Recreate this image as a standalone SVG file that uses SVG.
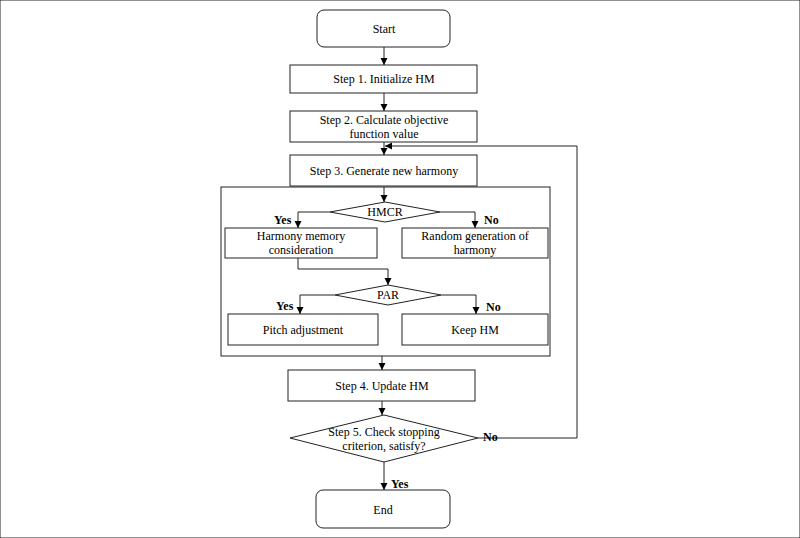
<svg xmlns="http://www.w3.org/2000/svg" width="800" height="538" viewBox="0 0 800 538">
<defs><marker id="a" markerWidth="8" markerHeight="8" refX="7" refY="4" orient="auto" markerUnits="userSpaceOnUse"><path d="M0,0.5 L7,4 L0,7.5 Z" fill="#000"/></marker></defs>
<style>
rect,polygon{fill:#fff;stroke:#222;stroke-width:1}
.t{font-family:"Liberation Serif","Times New Roman","DejaVu Serif",serif;font-size:12px;text-anchor:middle;fill:#000}
.b{font-family:"Liberation Serif","Times New Roman","DejaVu Serif",serif;font-size:12px;font-weight:bold;fill:#000}
.c path{fill:none;stroke:#222;stroke-width:1}
</style>
<rect width="800" height="538" fill="#fff" stroke="none"/>
<g id="container"><rect x="221" y="187" width="329" height="169"/></g>
<g id="start"><rect x="317" y="10" width="133" height="37" rx="7" stroke-width="2"/><text class="t" x="384" y="33">Start</text></g>
<g id="step1"><rect x="290" y="65" width="187" height="28"/><text class="t" x="384" y="83">Step 1. Initialize HM</text></g>
<g id="step2"><rect x="290" y="111" width="187" height="31"/><text class="t" x="384" y="124">Step 2. Calculate objective</text><text class="t" x="384" y="138">function value</text></g>
<g id="step3"><rect x="290" y="155" width="187" height="31"/><text class="t" x="384" y="175">Step 3. Generate new harmony</text></g>
<g id="hmcr"><polygon points="330,212 385,202 440,212 385,222"/><text class="t" x="385" y="216">HMCR</text></g>
<g id="hmc"><rect x="225" y="228" width="152" height="30"/><text class="t" x="301" y="240">Harmony memory</text><text class="t" x="301" y="254">consideration</text></g>
<g id="random"><rect x="402" y="228" width="146" height="30"/><text class="t" x="475" y="240">Random generation of</text><text class="t" x="475" y="254">harmony</text></g>
<g id="par"><polygon points="335,295 388,285 441,295 388,305"/><text class="t" x="388" y="299">PAR</text></g>
<g id="pitch"><rect x="228" y="314" width="150" height="31"/><text class="t" x="303" y="334">Pitch adjustment</text></g>
<g id="keep"><rect x="402" y="314" width="146" height="31"/><text class="t" x="475" y="334">Keep HM</text></g>
<g id="step4"><rect x="288" y="370" width="187" height="31"/><text class="t" x="382" y="390">Step 4. Update HM</text></g>
<g id="step5"><polygon points="290,438 384,415 478,438 384,462"/><text class="t" x="384" y="436">Step 5. Check stopping</text><text class="t" x="384" y="450">criterion, satisfy?</text></g>
<g id="end"><rect x="316" y="490" width="134" height="38" rx="7" stroke-width="2"/><text class="t" x="383" y="514">End</text></g>
<g class="c">
<path d="M384,47 V65" marker-end="url(#a)"/>
<path d="M384,93 V111" marker-end="url(#a)"/>
<path d="M384,142 V155" marker-end="url(#a)"/>
<path d="M384,187 V202" marker-end="url(#a)"/>
<path d="M330,212 H298 V228" marker-end="url(#a)"/>
<path d="M440,212 H475 V228" marker-end="url(#a)"/>
<path d="M298,258 V269 H388 V285" marker-end="url(#a)"/>
<path d="M335,295 H300 V314" marker-end="url(#a)"/>
<path d="M441,295 H476 V314" marker-end="url(#a)"/>
<path d="M382,356 V370" marker-end="url(#a)"/>
<path d="M382,401 V415" marker-end="url(#a)"/>
<path d="M384,462 V490" marker-end="url(#a)"/>
<path d="M478,438 H577 V146 H385" marker-end="url(#a)"/>
</g>
<g id="labels">
<text class="b" x="274" y="224">Yes</text><text class="b" x="484" y="224">No</text>
<text class="b" x="276" y="310">Yes</text><text class="b" x="486" y="311">No</text>
<text class="b" x="483" y="441">No</text><text class="b" x="391" y="488">Yes</text>
</g>
</svg>
